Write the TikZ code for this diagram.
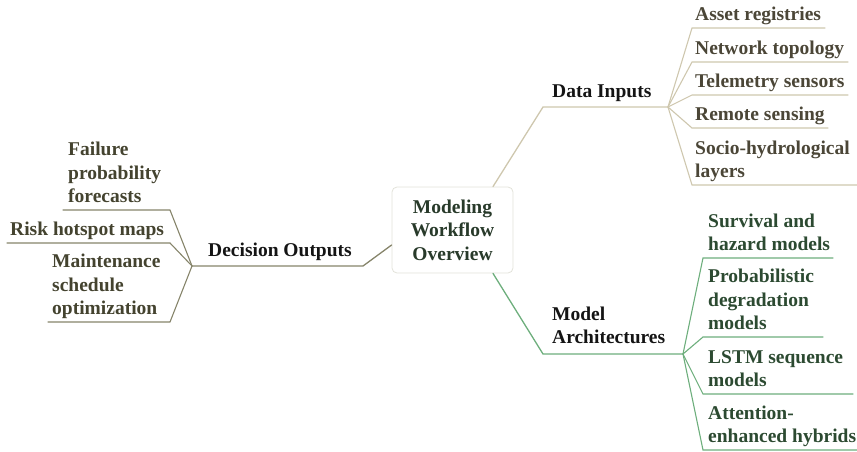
\documentclass[tikz,border=0pt]{standalone}
\usepackage{fontspec}
\setmainfont{Liberation Serif}
\definecolor{tanline}{HTML}{CEC7AE}
\definecolor{oliveline}{HTML}{86846A}
\definecolor{greenline}{HTML}{6DAE7C}
\definecolor{tantext}{HTML}{4B4637}
\definecolor{olivetext}{HTML}{44432F}
\definecolor{greentext}{HTML}{2C4A31}
\definecolor{roottext}{HTML}{283A2A}
\definecolor{rootborder}{HTML}{E2E2DA}
\begin{document}
\begin{tikzpicture}[x=1pt,y=-1pt,
  txt/.style={anchor=base west, inner sep=0pt, align=left, font=\fontsize{19.5}{23.4}\selectfont\bfseries},
  branchtxt/.style={txt, text=black!92},
  rootbox/.style={draw=rootborder, fill=white, rounded corners=5pt, line width=0.8pt,
    minimum width=121pt, minimum height=86pt, inner sep=0pt, align=center,
    font=\fontsize{19.5}{23.4}\selectfont\bfseries, text=roottext},
  tanlink/.style={draw=tanline, line width=1.3pt, line cap=round},
  olivelink/.style={draw=oliveline, line width=1.3pt, line cap=round},
  greenlink/.style={draw=greenline, line width=1.3pt, line cap=round},
  tanleaf/.style={draw=tanline, line width=1.1pt, line cap=round},
  oliveleaf/.style={draw=oliveline, line width=1.1pt, line cap=round},
  greenleaf/.style={draw=greenline, line width=1.1pt, line cap=round}
]
\useasboundingbox (0,0) rectangle (857,452);

% root
\node[rootbox] (root) at (452.5,230) {Modeling\\Workflow\\Overview};
\coordinate (rtop) at ([xshift=40.5pt]root.north);
\coordinate (rbot) at ([xshift=40.5pt]root.south);
\coordinate (rleft) at ([yshift=-15pt]root.west);

% ---------- Decision Outputs ----------
\coordinate (dL) at (192,266);
\coordinate (dR) at (363,266);
\node[branchtxt] (dec) at (208,256) {Decision Outputs};
\draw[olivelink] (dL) -- (dR) -- (rleft);

\coordinate (fL) at (63,210);  \coordinate (fR) at (170,210);
\coordinate (rL) at (7,243);   \coordinate (rR) at (170,243);
\coordinate (mL) at (48,322);  \coordinate (mR) at (170,322);
\node[txt, text=olivetext] (fail) at (68,202.5) {Failure\\probability\\forecasts};
\node[txt, text=olivetext] (risk) at (10,235.5) {Risk hotspot maps};
\node[txt, text=olivetext] (maint) at (52,314.5) {Maintenance\\schedule\\optimization};
\draw[oliveleaf] (fL) -- (fR) -- (dL);
\draw[oliveleaf] (rL) -- (rR) -- (dL);
\draw[oliveleaf] (mL) -- (mR) -- (dL);

% ---------- Data Inputs ----------
\coordinate (iL) at (543,107);
\coordinate (iR) at (668,107);
\node[branchtxt] (inp) at (552,97) {Data Inputs};
\draw[tanlink] (rtop) -- (iL) -- (iR);

\coordinate (aL) at (692,28);  \coordinate (aR) at (825,28);
\coordinate (nL) at (692,62);  \coordinate (nR) at (848,62);
\coordinate (tL) at (692,95);  \coordinate (tR) at (848,95);
\coordinate (sL) at (692,128); \coordinate (sR) at (828,128);
\coordinate (hL) at (692,185); \coordinate (hR) at (857,185);
\node[txt, text=tantext] (asset) at (695,20.5) {Asset registries};
\node[txt, text=tantext] (net) at (695,54.5) {Network topology};
\node[txt, text=tantext] (tele) at (695,87.5) {Telemetry sensors};
\node[txt, text=tantext] (rem) at (695,120.5) {Remote sensing};
\node[txt, text=tantext] (socio) at (695,177.5) {Socio-hydrological\\layers};
\draw[tanleaf] (iR) -- (aL) -- (aR);
\draw[tanleaf] (iR) -- (nL) -- (nR);
\draw[tanleaf] (iR) -- (tL) -- (tR);
\draw[tanleaf] (iR) -- (sL) -- (sR);
\draw[tanleaf] (iR) -- (hL) -- (hR);

% ---------- Model Architectures ----------
\coordinate (mdL) at (543,354);
\coordinate (mdR) at (683,354);
\node[branchtxt] (mod) at (552,343.5) {Model\\Architectures};
\draw[greenlink] (rbot) -- (mdL) -- (mdR);

\coordinate (svL) at (703,258); \coordinate (svR) at (833,258);
\coordinate (pbL) at (703,337); \coordinate (pbR) at (823,337);
\coordinate (lsL) at (703,394); \coordinate (lsR) at (853,394);
\coordinate (atL) at (703,450); \coordinate (atR) at (857,450);
\node[txt, text=greentext] (surv) at (708,250.5) {Survival and\\hazard models};
\node[txt, text=greentext] (prob) at (708,329.5) {Probabilistic\\degradation\\models};
\node[txt, text=greentext] (lstm) at (708,386.5) {LSTM sequence\\models};
\node[txt, text=greentext] (att) at (708,442.5) {Attention-\\enhanced hybrids};
\draw[greenleaf] (mdR) -- (svL) -- (svR);
\draw[greenleaf] (mdR) -- (pbL) -- (pbR);
\draw[greenleaf] (mdR) -- (lsL) -- (lsR);
\draw[greenleaf] (mdR) -- (atL) -- (atR);
\end{tikzpicture}
\end{document}
